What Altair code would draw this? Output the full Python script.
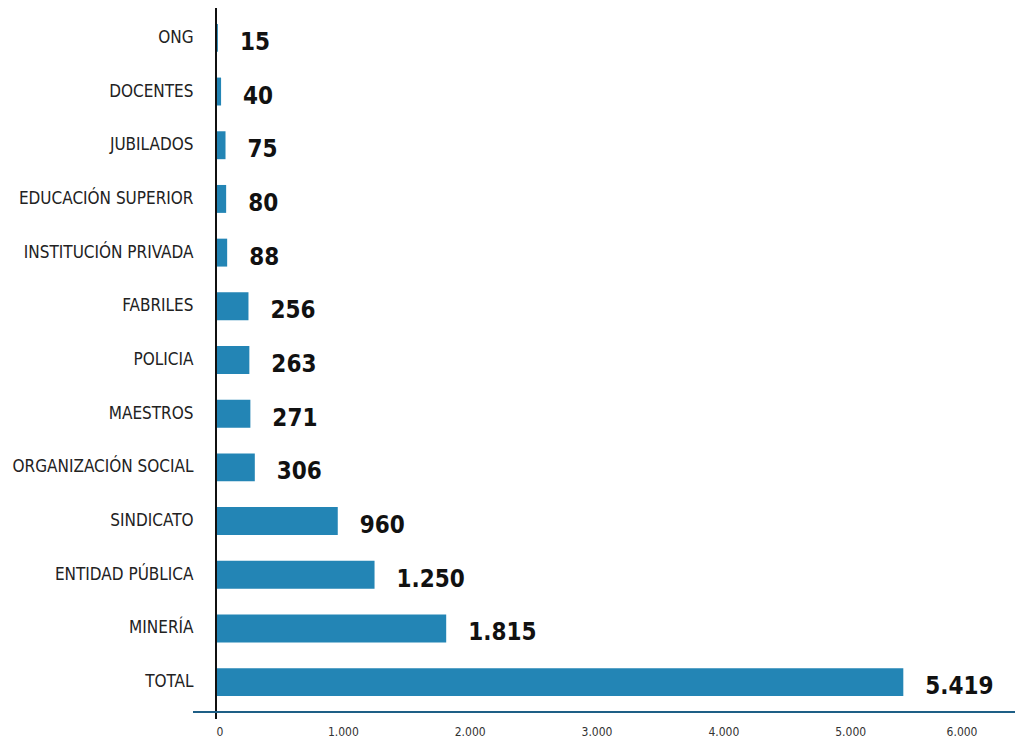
import altair as alt
import pandas as pd

categories = ["ONG", "DOCENTES", "JUBILADOS", "EDUCACIÓN SUPERIOR", "INSTITUCIÓN PRIVADA",
              "FABRILES", "POLICIA", "MAESTROS", "ORGANIZACIÓN SOCIAL", "SINDICATO",
              "ENTIDAD PÚBLICA", "MINERÍA", "TOTAL"]
values = [15, 40, 75, 80, 88, 256, 263, 271, 306, 960, 1250, 1815, 5419]
value_labels = ["15", "40", "75", "80", "88", "256", "263", "271", "306", "960",
                "1.250", "1.815", "5.419"]
x_ticks = [0, 1000, 2000, 3000, 4000, 5000, 6000]

df = pd.DataFrame({"cat": categories, "val": values, "lab": value_labels})

W = 761
H = 698
FONT = "DejaVu Sans Condensed"
BAR = "#2385b5"

y_enc = alt.Y("cat:N", sort=categories,
              scale=alt.Scale(paddingInner=0.48, paddingOuter=0.24),
              axis=alt.Axis(title=None, domain=False, ticks=False, labelPadding=23,
                            labelFont=FONT, labelFontSize=17, labelColor="#222222",
                            labelLimit=0))
x_enc = alt.X("val:Q", scale=alt.Scale(domain=[0, 6000], nice=False),
              axis=alt.Axis(title=None, domain=False, ticks=False, grid=False,
                            values=x_ticks, labelExpr="replace(format(datum.value, ','), ',', '.')",
                            labelFont=FONT, labelFontSize=12, labelColor="#333333",
                            labelPadding=17))

bars = alt.Chart(df).mark_bar(color=BAR).encode(x=x_enc, y=y_enc)

labels = alt.Chart(df).mark_text(align="left", baseline="middle", dx=22, dy=5,
                                 font=FONT, fontSize=24, fontWeight="bold",
                                 color="#111111").encode(
    x="val:Q", y=alt.Y("cat:N", sort=categories), text="lab:N")

vline = alt.Chart(df).mark_rule(color="#111111", strokeWidth=1.5).encode(
    x=alt.value(0), y=alt.value(-3), y2=alt.value(H + 10))

hline = alt.Chart(df).mark_rule(color="#1f5f86", strokeWidth=1.5).encode(
    x=alt.value(-23), x2=alt.value(W + 38), y=alt.value(H + 3))

chart = alt.layer(bars, labels, vline, hline).properties(
    width=W, height=H,
    background="white",
    autosize=alt.AutoSizeParams(type="none"),
    padding={"left": 208, "top": 3, "right": 38, "bottom": 32}
).configure_view(stroke=None, strokeWidth=0)

chart.save("out.html", embed_options={"renderer": "svg", "actions": False})
